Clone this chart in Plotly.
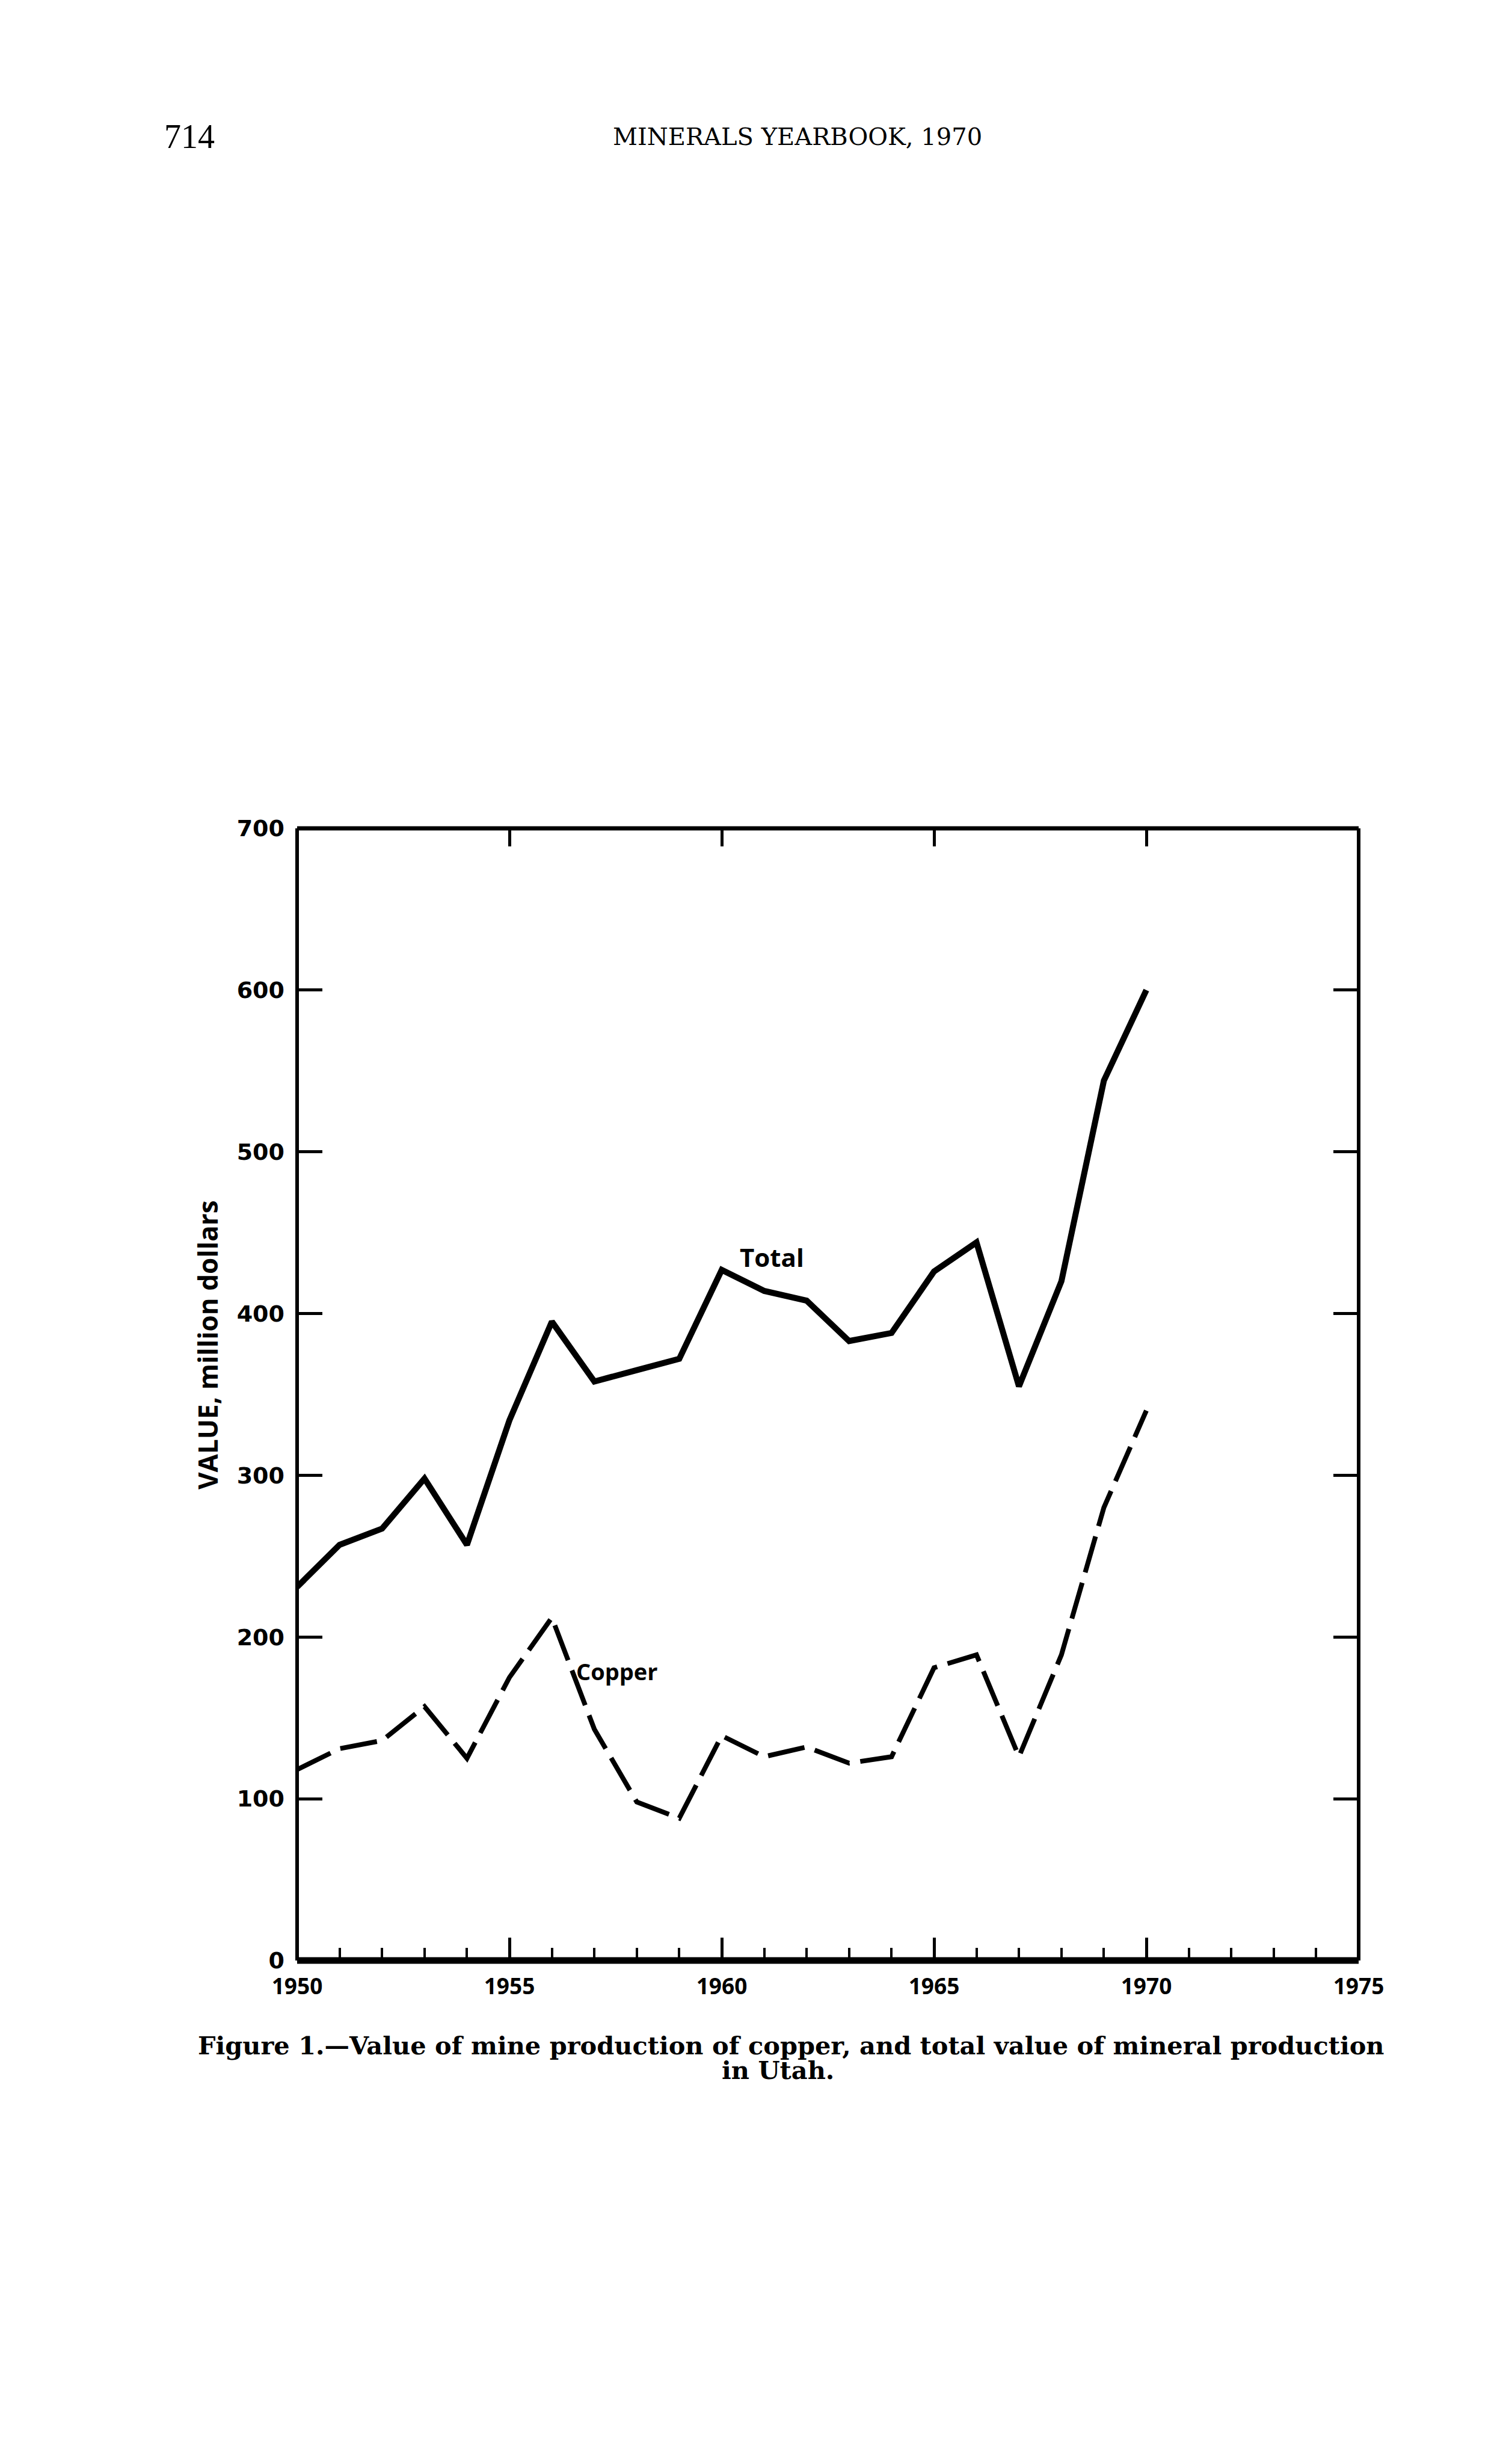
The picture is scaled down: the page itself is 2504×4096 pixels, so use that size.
import plotly.graph_objects as go

# ---- data ----
years = list(range(1950, 1971))
total_value = [231, 257, 267, 298, 257, 334, 395, 358, 365, 372, 427,
               414, 408, 383, 388, 426, 444, 355, 420, 544, 600]
copper_value = [118, 131, 136, 157, 125, 175, 212, 143, 98, 88, 139,
                126, 132, 122, 126, 181, 189, 126, 189, 280, 340]

x_major_ticks = [1950, 1955, 1960, 1965, 1970, 1975]
x_tick_labels = ["1950", "1955", "1960", "1965", "1970", "1975"]
top_ticks = [1955, 1960, 1965, 1970]
y_ticks = [0, 100, 200, 300, 400, 500, 600, 700]
y_tick_labels = ["0", "100", "200", "300", "400", "500", "600", "700"]

W, H = 2504, 4096
L, R, T, B = 486, 253, 1369, 845

SANS = "Open Sans"
SANS_WIDE = "DejaVu Sans"
SERIF = "Liberation Serif"
SERIF_WIDE = "DejaVu Serif"

fig = go.Figure()

fig.add_trace(go.Scatter(
    x=years, y=total_value, mode="lines", name="Total",
    line=dict(color="black", width=10), showlegend=False,
))
fig.add_trace(go.Scatter(
    x=years, y=copper_value, mode="lines", name="Copper",
    line=dict(color="black", width=8, dash="62px,18px"), showlegend=False,
))
# empty trace so the top axis (ticks only) is rendered
fig.add_trace(go.Scatter(x=[], y=[], xaxis="x2", showlegend=False))

fig.update_layout(
    width=W, height=H, autosize=False,
    margin=dict(l=L, r=R, t=T, b=B, pad=0),
    paper_bgcolor="white", plot_bgcolor="white",
    showlegend=False,
    xaxis=dict(
        range=[1950, 1975], showgrid=False, zeroline=False, showline=False,
        tickmode="array", tickvals=x_major_ticks, ticktext=x_tick_labels,
        ticks="inside", ticklen=38, tickwidth=5, tickcolor="black",
        tickfont=dict(family=SANS, size=37, color="black", weight="bold"),
        ticklabelstandoff=18,
        minor=dict(dtick=1, tick0=1950, ticks="inside", ticklen=21,
                   tickwidth=4, tickcolor="black", showgrid=False),
    ),
    xaxis2=dict(
        range=[1950, 1975], overlaying="x", side="top", showgrid=False,
        zeroline=False, showline=False, tickmode="array", tickvals=top_ticks,
        ticks="inside", ticklen=30, tickwidth=5, tickcolor="black",
        showticklabels=False,
    ),
    yaxis=dict(
        range=[0, 700], showgrid=False, zeroline=False, showline=False,
        tickmode="array", tickvals=y_ticks, ticktext=y_tick_labels,
        ticks="inside", ticklen=42, tickwidth=5, tickcolor="black",
        mirror="ticks",
        tickfont=dict(family=SANS_WIDE, size=38, color="black", weight="bold"),
        ticklabelstandoff=20,
    ),
)

# frame
frame = [
    (0, 0, 0, 1, 6),   # left
    (1, 1, 0, 1, 6),   # right
    (0, 1, 1, 1, 7),   # top
    (0, 1, 0, 0, 11),  # bottom
]
for x0, x1, y0, y1, w in frame:
    fig.add_shape(type="line", xref="paper", yref="paper",
                  x0=x0, x1=x1, y0=y0, y1=y1,
                  line=dict(color="black", width=w), layer="above")

annotations = [
    dict(text="Total", x=1961.18, y=435, xref="x", yref="y",
         font=dict(family=SANS, size=42, color="black", weight="bold")),
    dict(text="Copper", x=1957.54, y=179, xref="x", yref="y",
         font=dict(family=SANS, size=38, color="black", weight="bold")),
    dict(text="VALUE, million dollars", x=-0.0844, y=0.5436, xref="paper",
         yref="paper", textangle=-90,
         font=dict(family=SANS, size=44, color="black", weight="bold")),
    dict(text="714", x=-0.1014, y=1.6110, xref="paper", yref="paper",
         font=dict(family=SERIF, size=56, color="black")),
    dict(text="MINERALS YEARBOOK, 1970", x=0.4714, y=1.6110, xref="paper",
         yref="paper", font=dict(family=SERIF_WIDE, size=40, color="black")),
    dict(text="Figure 1.\u2014Value of mine production of copper, and total value of mineral production",
         x=0.4657, y=-0.0750, xref="paper", yref="paper",
         font=dict(family=SERIF_WIDE, size=41.5, color="black", weight="bold")),
    dict(text="in Utah.", x=0.4527, y=-0.0968, xref="paper", yref="paper",
         font=dict(family=SERIF_WIDE, size=41.5, color="black", weight="bold")),
]
for a in annotations:
    a.update(showarrow=False, xanchor="center", yanchor="middle")
    fig.add_annotation(**a)

fig.write_html("out.html")
